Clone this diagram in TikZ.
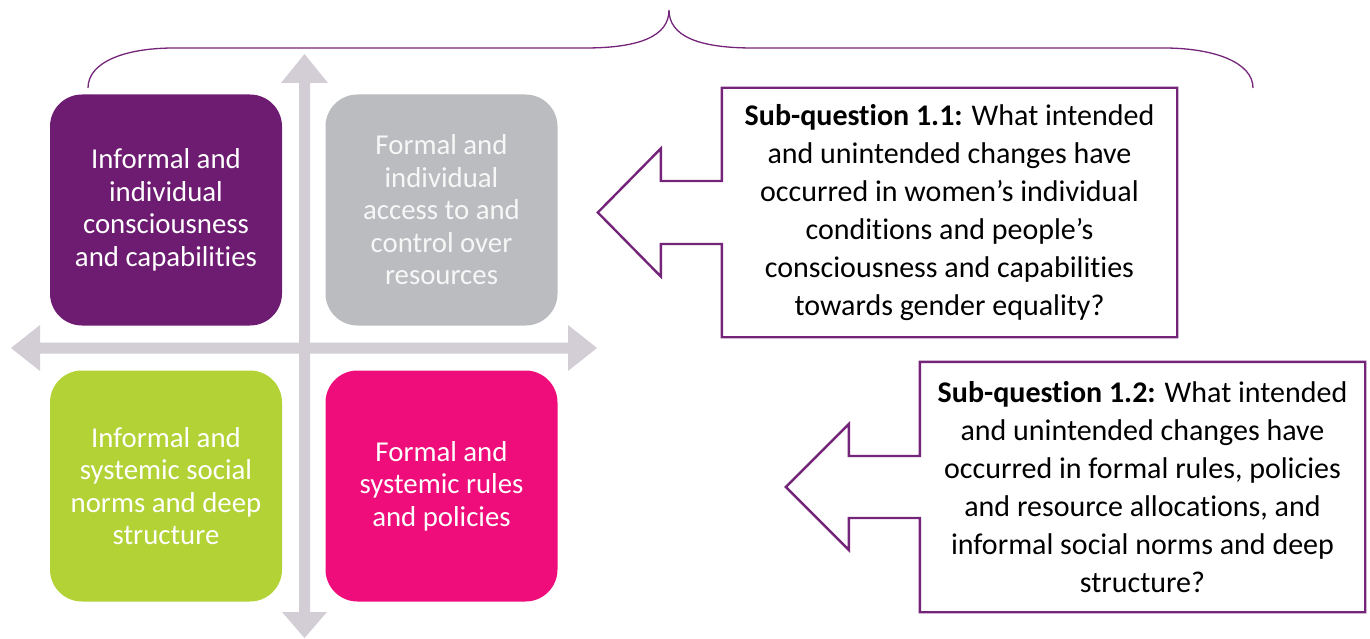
\documentclass[tikz,border=0pt]{standalone}
\usepackage{fontspec}
\setmainfont[Ligatures=NoCommon]{Carlito}
\usetikzlibrary{calc}
\definecolor{quadpurple}{HTML}{6D1C71}
\definecolor{quadgrey}{HTML}{BBBCBF}
\definecolor{quadgreen}{HTML}{B2D235}
\definecolor{quadpink}{HTML}{EE0D7A}
\definecolor{axisgrey}{HTML}{D3CED6}
\definecolor{lineviolet}{HTML}{74257A}
\begin{document}
\begin{tikzpicture}[x=1pt,y=-1pt,
  quad/.style={rounded corners=32pt, minimum width=232pt, minimum height=231pt,
    inner sep=0pt, align=center, text=white,
    font=\fontsize{28.8}{32.5}\selectfont},
  callout/.style={draw=lineviolet, line width=2.4pt, line join=miter},
  qtext/.style={align=center, inner sep=0pt, font=\fontsize{30}{38}\selectfont},
  axis/.style={fill=axisgrey, draw=none}]
\useasboundingbox (0,0) rectangle (1370,639);

% the two axes of the quadrant
\coordinate (c) at (304.5,348);
\fill[axis] (299,83) -- (281,83) -- (304.5,54) -- (328,83) -- (310,83)
  -- (310,612) -- (327,612) -- (304.5,638) -- (282,612) -- (299,612) -- cycle;
\fill[axis] (40,342.5) -- (40,325) -- (11,348) -- (40,371) -- (40,353.5)
  -- (568,353.5) -- (568,371) -- (597,348) -- (568,325) -- (568,342.5) -- cycle;

% the four quadrants
\node[quad, fill=quadpurple] (q11) at (166,210)
  {Informal and\\individual\\consciousness\\and capabilities};
\node[quad, fill=quadgrey, text=white!97!black] (q12) at (441.5,210)
  {Formal and\\individual\\access to and\\control over\\resources};
\node[quad, fill=quadgreen] (q21) at (166,486)
  {Informal and\\systemic social\\norms and deep\\structure};
\node[quad, fill=quadpink] (q22) at (441.5,486)
  {Formal and\\systemic rules\\and policies};

% brace over the whole
\draw[lineviolet, line width=1.3pt] (88,88) .. controls (88,62) and (125,48) .. (174,48)
  -- (585,48) .. controls (640,48) and (669,36) .. (669,10)
  .. controls (669,36) and (698,48) .. (753,48)
  -- (1164,48) .. controls (1213,48) and (1253,62) .. (1253,88);

% sub-question callouts
\node[qtext, minimum width=455pt, minimum height=249pt] (s1) at (949.5,212.5)
  {\textbf{Sub-question 1.1:} What intended\\and unintended changes have\\occurred in women’s individual\\conditions and people’s\\consciousness and capabilities\\towards gender equality?};
\draw[callout] (s1.north west) -- (s1.north east) -- (s1.south east) -- (s1.south west)
  -- ($(s1.west)+(0,31.5)$) -- ($(s1.west)+(-61,31.5)$) -- ($(s1.west)+(-61,64)$)
  -- ($(s1.west)+(-124,0)$) -- ($(s1.west)+(-61,-64)$) -- ($(s1.west)+(-61,-31.5)$)
  -- ($(s1.west)+(0,-31.5)$) -- cycle;

\node[qtext, minimum width=445pt, minimum height=250pt] (s2) at (1142.5,487)
  {\textbf{Sub-question 1.2:} What intended\\and unintended changes have\\occurred in formal rules, policies\\and resource allocations, and\\informal social norms and deep\\structure?};
\draw[callout] (s2.north west) -- (s2.north east) -- (s2.south east) -- (s2.south west)
  -- ($(s2.west)+(0,31)$) -- ($(s2.west)+(-71,31)$) -- ($(s2.west)+(-71,63)$)
  -- ($(s2.west)+(-134,0)$) -- ($(s2.west)+(-71,-63)$) -- ($(s2.west)+(-71,-31)$)
  -- ($(s2.west)+(0,-31)$) -- cycle;
\end{tikzpicture}
\end{document}
